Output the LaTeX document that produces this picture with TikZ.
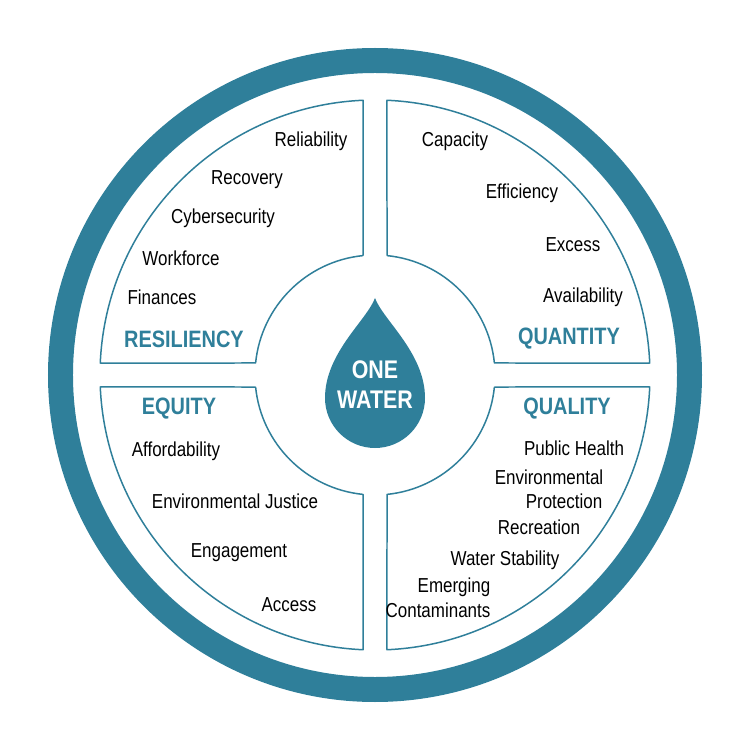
\documentclass[tikz,border=0pt]{standalone}
\usepackage{fontspec}
\setmainfont{Liberation Sans}[FakeStretch=0.84]
\usepackage{xcolor}
\definecolor{teal}{HTML}{2F7F9A}
\begin{document}
\tikzset{
  item/.style={font=\fontsize{11.5}{13}\selectfont, text=black, inner sep=0pt},
  head/.style={font=\fontsize{13.5}{16}\selectfont\bfseries, text=teal, inner sep=0pt},
  quad/.style={draw=teal, line width=0.03cm, line join=round}
}
\begin{tikzpicture}[x=0.02cm, y=0.02cm]
  \useasboundingbox (-375,-375) rectangle (375,375);
  % outer ring
  \draw[teal, line width=0.5cm] (0,0) circle (314.5);
  % quadrants
  \draw[quad] (95.74:120) -- (92.5:275) arc (92.5:177.5:275) -- (174.26:120) arc (174.26:95.74:120);
  \draw[quad] (84.26:120) -- (87.5:275) arc (87.5:2.5:275) -- (5.74:120) arc (5.74:84.26:120);
  \draw[quad] (185.74:120) -- (182.5:275) arc (182.5:267.5:275) -- (264.26:120) arc (264.26:185.74:120);
  \draw[quad] (354.26:120) -- (357.5:275) arc (357.5:272.5:275) -- (275.74:120) arc (275.74:354.26:120);
  % drop
  \fill[teal] (0,77) .. controls (8,55) and (50,22) .. (50,-23) arc (0:-180:50) .. controls (-50,22) and (-8,55) .. (0,77);
  \node[head, text=white, align=center, font=\fontsize{14.5}{17}\selectfont\bfseries] (onewater) at (0,-10) {ONE\\WATER};
  % resiliency
  \node[head] (resiliency) at (-191,36) {RESILIENCY};
  \node[item] (reliability) at (-64,234) {Reliability};
  \node[item] (recovery) at (-128,195) {Recovery};
  \node[item] (cyber) at (-152,157) {Cybersecurity};
  \node[item] (workforce) at (-194,117) {Workforce};
  \node[item] (finances) at (-213,78) {Finances};
  % quantity
  \node[head] (quantity) at (194,36) {QUANTITY};
  \node[item] (capacity) at (80,234) {Capacity};
  \node[item] (efficiency) at (147,182) {Efficiency};
  \node[item] (excess) at (198,130) {Excess};
  \node[item] (availability) at (208,78) {Availability};
  % equity
  \node[head] (equity) at (-196,-34) {EQUITY};
  \node[item] (afford) at (-199,-76) {Affordability};
  \node[item] (envjustice) at (-140,-126) {Environmental Justice};
  \node[item] (engagement) at (-136,-178) {Engagement};
  \node[item] (access) at (-86,-230) {Access};
  % quality
  \node[head] (quality) at (192,-34) {QUALITY};
  \node[item] (health) at (199,-73) {Public Health};
  \node[item] (envprot) at (174,-102) {Environmental};
  \node[item] (protection) at (189,-126) {Protection};
  \node[item] (recreation) at (164,-152) {Recreation};
  \node[item] (stability) at (130,-185) {Water Stability};
  \node[item] (emerging) at (79,-212) {Emerging};
  \node[item] (contam) at (63,-235) {Contaminants};
\end{tikzpicture}
\end{document}
